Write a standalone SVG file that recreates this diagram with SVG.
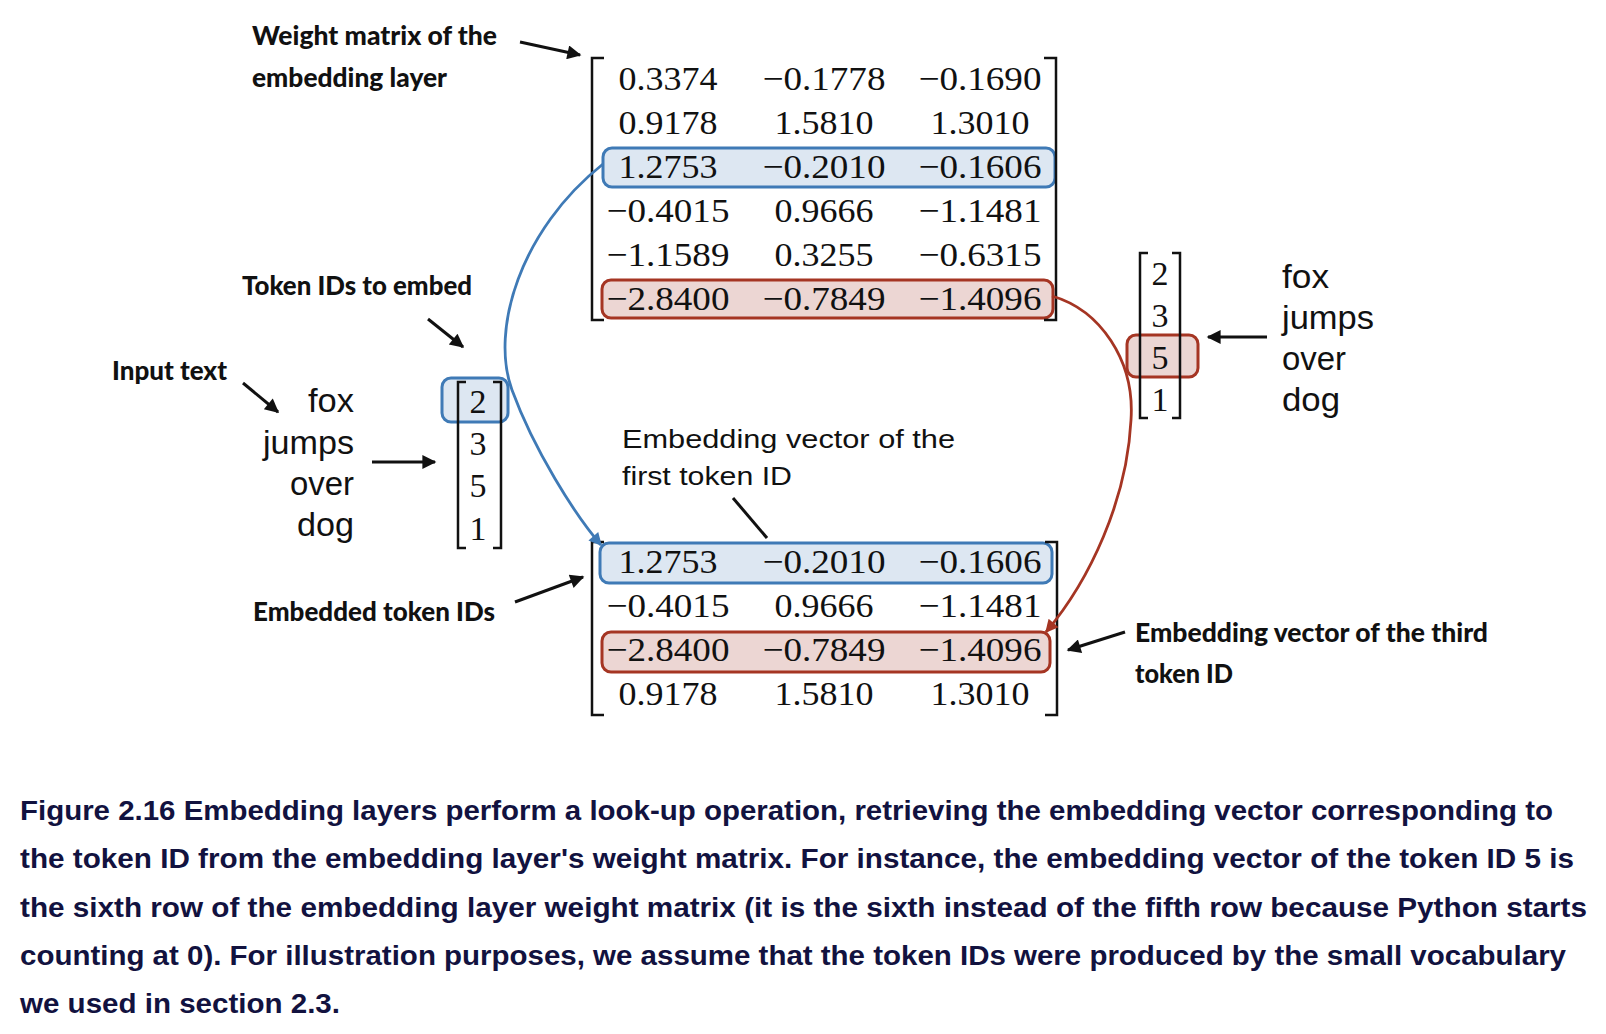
<svg xmlns="http://www.w3.org/2000/svg" width="1606" height="1034" viewBox="0 0 1606 1034">
<style>
.num{font-family:"Liberation Serif","Times New Roman",serif;font-size:34px;fill:#111;}
.word{font-family:"Liberation Sans",Arial,sans-serif;font-size:33px;fill:#111;}
.lbl{font-family:Lato,"Liberation Sans",sans-serif;font-weight:900;font-size:26px;fill:#111;}
.lblr{font-family:"Liberation Sans",Arial,sans-serif;font-size:26px;fill:#111;}
.cap{font-family:"Liberation Sans",Arial,sans-serif;font-weight:700;font-size:28px;fill:#12123f;}
.br{fill:none;stroke:#111;stroke-width:2.5;}
.bbox{fill:#dde7f2;stroke:#3f7ab6;stroke-width:3;}
.rbox{fill:#ecd6d3;stroke:#a53523;stroke-width:3;}
.arr{fill:none;stroke:#111;stroke-width:3;marker-end:url(#ah);}
</style>
<defs>
<marker id="ah" viewBox="0 0 10 10" refX="9" refY="5" markerUnits="userSpaceOnUse" markerWidth="18" markerHeight="14" orient="auto"><path d="M0,0 L10,5 L0,10 z" fill="#111"/></marker>
<marker id="ahb" viewBox="0 0 10 10" refX="9" refY="5" markerUnits="userSpaceOnUse" markerWidth="16" markerHeight="13" orient="auto"><path d="M0,0 L10,5 L0,10 z" fill="#3f7ab6"/></marker>
<marker id="ahr" viewBox="0 0 10 10" refX="9" refY="5" markerUnits="userSpaceOnUse" markerWidth="16" markerHeight="13" orient="auto"><path d="M0,0 L10,5 L0,10 z" fill="#a53523"/></marker>
</defs>
<rect width="1606" height="1034" fill="#fff"/>

<g id="weight-matrix">
<rect class="bbox" x="603" y="148" width="452" height="39" rx="9"/>
<rect class="rbox" x="602" y="280" width="451" height="38" rx="9"/>
<path class="br" d="M604,58 H592 V320 H604"/>
<path class="br" d="M1044,58 H1056 V320 H1044"/>
<text class="num" x="618.5" y="90" textLength="99" lengthAdjust="spacingAndGlyphs">0.3374</text>
<text class="num" x="762.5" y="90" textLength="123" lengthAdjust="spacingAndGlyphs">−0.1778</text>
<text class="num" x="918.5" y="90" textLength="123" lengthAdjust="spacingAndGlyphs">−0.1690</text>
<text class="num" x="618.5" y="134" textLength="99" lengthAdjust="spacingAndGlyphs">0.9178</text>
<text class="num" x="774.5" y="134" textLength="99" lengthAdjust="spacingAndGlyphs">1.5810</text>
<text class="num" x="930.5" y="134" textLength="99" lengthAdjust="spacingAndGlyphs">1.3010</text>
<text class="num" x="618.5" y="178" textLength="99" lengthAdjust="spacingAndGlyphs">1.2753</text>
<text class="num" x="762.5" y="178" textLength="123" lengthAdjust="spacingAndGlyphs">−0.2010</text>
<text class="num" x="918.5" y="178" textLength="123" lengthAdjust="spacingAndGlyphs">−0.1606</text>
<text class="num" x="606.5" y="222" textLength="123" lengthAdjust="spacingAndGlyphs">−0.4015</text>
<text class="num" x="774.5" y="222" textLength="99" lengthAdjust="spacingAndGlyphs">0.9666</text>
<text class="num" x="918.5" y="222" textLength="123" lengthAdjust="spacingAndGlyphs">−1.1481</text>
<text class="num" x="606.5" y="266" textLength="123" lengthAdjust="spacingAndGlyphs">−1.1589</text>
<text class="num" x="774.5" y="266" textLength="99" lengthAdjust="spacingAndGlyphs">0.3255</text>
<text class="num" x="918.5" y="266" textLength="123" lengthAdjust="spacingAndGlyphs">−0.6315</text>
<text class="num" x="606.5" y="310" textLength="123" lengthAdjust="spacingAndGlyphs">−2.8400</text>
<text class="num" x="762.5" y="310" textLength="123" lengthAdjust="spacingAndGlyphs">−0.7849</text>
<text class="num" x="918.5" y="310" textLength="123" lengthAdjust="spacingAndGlyphs">−1.4096</text>
</g>

<g id="embedded-matrix">
<rect class="bbox" x="600" y="543" width="452" height="40" rx="9"/>
<rect class="rbox" x="602" y="632" width="448" height="40" rx="9"/>
<path class="br" d="M604,542 H592 V715 H604"/>
<path class="br" d="M1045,542 H1057 V715 H1045"/>
<text class="num" x="618.5" y="573" textLength="99" lengthAdjust="spacingAndGlyphs">1.2753</text>
<text class="num" x="762.5" y="573" textLength="123" lengthAdjust="spacingAndGlyphs">−0.2010</text>
<text class="num" x="918.5" y="573" textLength="123" lengthAdjust="spacingAndGlyphs">−0.1606</text>
<text class="num" x="606.5" y="617" textLength="123" lengthAdjust="spacingAndGlyphs">−0.4015</text>
<text class="num" x="774.5" y="617" textLength="99" lengthAdjust="spacingAndGlyphs">0.9666</text>
<text class="num" x="918.5" y="617" textLength="123" lengthAdjust="spacingAndGlyphs">−1.1481</text>
<text class="num" x="606.5" y="661" textLength="123" lengthAdjust="spacingAndGlyphs">−2.8400</text>
<text class="num" x="762.5" y="661" textLength="123" lengthAdjust="spacingAndGlyphs">−0.7849</text>
<text class="num" x="918.5" y="661" textLength="123" lengthAdjust="spacingAndGlyphs">−1.4096</text>
<text class="num" x="618.5" y="705" textLength="99" lengthAdjust="spacingAndGlyphs">0.9178</text>
<text class="num" x="774.5" y="705" textLength="99" lengthAdjust="spacingAndGlyphs">1.5810</text>
<text class="num" x="930.5" y="705" textLength="99" lengthAdjust="spacingAndGlyphs">1.3010</text>
</g>

<g id="token-ids">
<rect class="bbox" x="442" y="378" width="66" height="44" rx="9"/>
<path class="br" d="M466,382 H458 V548 H466"/>
<path class="br" d="M493,382 H501 V548 H493"/>
<text class="num" x="478" y="413" text-anchor="middle">2</text>
<text class="num" x="478" y="455" text-anchor="middle">3</text>
<text class="num" x="478" y="497" text-anchor="middle">5</text>
<text class="num" x="478" y="540" text-anchor="middle">1</text>
</g>

<g id="token-ids-right">
<rect class="rbox" x="1127" y="335" width="71" height="42" rx="9"/>
<path class="br" d="M1148,253 H1140 V418 H1148"/>
<path class="br" d="M1172,253 H1180 V418 H1172"/>
<text class="num" x="1160" y="285" text-anchor="middle">2</text>
<text class="num" x="1160" y="327" text-anchor="middle">3</text>
<text class="num" x="1160" y="369" text-anchor="middle">5</text>
<text class="num" x="1160" y="411" text-anchor="middle">1</text>
</g>

<g id="input-text-left">
<text class="word" x="308" y="412" textLength="46" lengthAdjust="spacingAndGlyphs">fox</text>
<text class="word" x="263" y="454" textLength="91" lengthAdjust="spacingAndGlyphs">jumps</text>
<text class="word" x="290" y="495" textLength="64" lengthAdjust="spacingAndGlyphs">over</text>
<text class="word" x="297" y="536" textLength="57" lengthAdjust="spacingAndGlyphs">dog</text>
</g>

<g id="input-text-right">
<text class="word" x="1282" y="288" textLength="47" lengthAdjust="spacingAndGlyphs">fox</text>
<text class="word" x="1282" y="329" textLength="92" lengthAdjust="spacingAndGlyphs">jumps</text>
<text class="word" x="1282" y="370" textLength="64" lengthAdjust="spacingAndGlyphs">over</text>
<text class="word" x="1282" y="411" textLength="58" lengthAdjust="spacingAndGlyphs">dog</text>
</g>

<g id="label-weight-matrix">
<text class="lbl" x="252" y="45" textLength="245" lengthAdjust="spacingAndGlyphs">Weight matrix of the</text>
<text class="lbl" x="252" y="87" textLength="195" lengthAdjust="spacingAndGlyphs">embedding layer</text>
</g>
<g id="label-token-ids">
<text class="lbl" x="242" y="295" textLength="230" lengthAdjust="spacingAndGlyphs">Token IDs to embed</text>
</g>
<g id="label-input-text">
<text class="lbl" x="112" y="380" textLength="115" lengthAdjust="spacingAndGlyphs">Input text</text>
</g>
<g id="label-embedded">
<text class="lbl" x="253" y="621" textLength="242" lengthAdjust="spacingAndGlyphs">Embedded token IDs</text>
</g>
<g id="label-third">
<text class="lbl" x="1135" y="642" textLength="353" lengthAdjust="spacingAndGlyphs">Embedding vector of the third</text>
<text class="lbl" x="1135" y="683" textLength="98" lengthAdjust="spacingAndGlyphs">token ID</text>
</g>
<g id="label-first">
<text class="lblr" x="622" y="448" textLength="333" lengthAdjust="spacingAndGlyphs">Embedding vector of the</text>
<text class="lblr" x="622" y="485" textLength="170" lengthAdjust="spacingAndGlyphs">first token ID</text>
</g>

<g id="connectors">
<line class="arr" x1="520" y1="42" x2="580" y2="55"/>
<line class="arr" x1="428" y1="319" x2="463" y2="347"/>
<line class="arr" x1="243" y1="383" x2="278" y2="412"/>
<line class="arr" x1="372" y1="462" x2="435" y2="462"/>
<line class="arr" x1="1267" y1="337" x2="1208" y2="337"/>
<line class="arr" x1="515" y1="602" x2="583" y2="577"/>
<line class="arr" x1="1125" y1="632" x2="1068" y2="650"/>
<line x1="733" y1="498" x2="767" y2="538" stroke="#111" stroke-width="3"/>
<path d="M603,164 C520,230 490,330 512,390 C534,450 575,515 601,545" fill="none" stroke="#3f7ab6" stroke-width="2.8" marker-end="url(#ahb)"/>
<path d="M1052,296 C1100,310 1135,360 1131,420 C1127,500 1090,580 1046,632" fill="none" stroke="#a53523" stroke-width="2.8" marker-end="url(#ahr)"/>
</g>

<g id="caption">
<text class="cap" x="20" y="820" textLength="1533" lengthAdjust="spacingAndGlyphs">Figure 2.16 Embedding layers perform a look-up operation, retrieving the embedding vector corresponding to</text>
<text class="cap" x="20" y="868" textLength="1554" lengthAdjust="spacingAndGlyphs">the token ID from the embedding layer's weight matrix. For instance, the embedding vector of the token ID 5 is</text>
<text class="cap" x="20" y="917" textLength="1567" lengthAdjust="spacingAndGlyphs">the sixth row of the embedding layer weight matrix (it is the sixth instead of the fifth row because Python starts</text>
<text class="cap" x="20" y="965" textLength="1546" lengthAdjust="spacingAndGlyphs">counting at 0). For illustration purposes, we assume that the token IDs were produced by the small vocabulary</text>
<text class="cap" x="20" y="1013" textLength="320" lengthAdjust="spacingAndGlyphs">we used in section 2.3.</text>
</g>
</svg>
